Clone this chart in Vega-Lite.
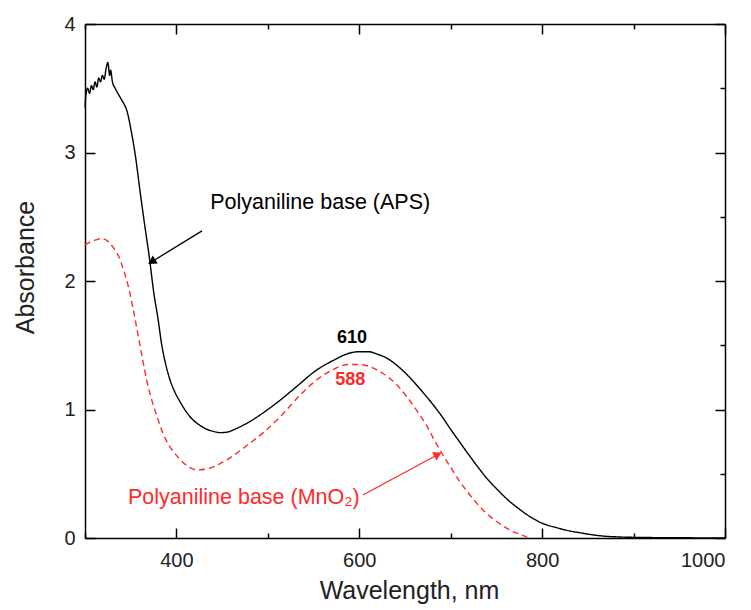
{
  "$schema": "https://vega.github.io/schema/vega-lite/v6.json",
  "width": 640,
  "height": 514,
  "autosize": {"type": "none"},
  "padding": {"left": 85, "top": 24, "right": 26, "bottom": 72},
  "background": "white",
  "config": {
    "view": {"stroke": null},
    "axis": {
      "grid": false,
      "domainColor": "black",
      "domainWidth": 1.5,
      "tickColor": "black",
      "tickWidth": 1.5,
      "labelFont": "Liberation Sans",
      "labelFontSize": 20,
      "labelColor": "#222",
      "titleFont": "Liberation Sans",
      "titleFontSize": 25,
      "titleFontWeight": "normal",
      "titleColor": "#222"
    }
  },
  "datasets": {
    "spectra": [
      {"wl": 300, "abs": 3.35, "s": "APS"},
      {"wl": 301, "abs": 3.45, "s": "APS"},
      {"wl": 303, "abs": 3.50, "s": "APS"},
      {"wl": 305, "abs": 3.46, "s": "APS"},
      {"wl": 307, "abs": 3.52, "s": "APS"},
      {"wl": 309, "abs": 3.49, "s": "APS"},
      {"wl": 311, "abs": 3.55, "s": "APS"},
      {"wl": 313, "abs": 3.51, "s": "APS"},
      {"wl": 315, "abs": 3.58, "s": "APS"},
      {"wl": 317, "abs": 3.55, "s": "APS"},
      {"wl": 319, "abs": 3.60, "s": "APS"},
      {"wl": 321, "abs": 3.57, "s": "APS"},
      {"wl": 323, "abs": 3.65, "s": "APS"},
      {"wl": 325, "abs": 3.70, "s": "APS"},
      {"wl": 327, "abs": 3.60, "s": "APS"},
      {"wl": 328, "abs": 3.64, "s": "APS"},
      {"wl": 330, "abs": 3.55, "s": "APS"},
      {"wl": 333, "abs": 3.50, "s": "APS"},
      {"wl": 336, "abs": 3.46, "s": "APS"},
      {"wl": 340, "abs": 3.41, "s": "APS"},
      {"wl": 346, "abs": 3.32, "s": "APS"},
      {"wl": 351, "abs": 3.15, "s": "APS"},
      {"wl": 355, "abs": 2.98, "s": "APS"},
      {"wl": 360, "abs": 2.71, "s": "APS"},
      {"wl": 365, "abs": 2.45, "s": "APS"},
      {"wl": 371, "abs": 2.15, "s": "APS"},
      {"wl": 375, "abs": 1.92, "s": "APS"},
      {"wl": 380, "abs": 1.70, "s": "APS"},
      {"wl": 384, "abs": 1.50, "s": "APS"},
      {"wl": 388, "abs": 1.36, "s": "APS"},
      {"wl": 393, "abs": 1.23, "s": "APS"},
      {"wl": 398, "abs": 1.14, "s": "APS"},
      {"wl": 404, "abs": 1.06, "s": "APS"},
      {"wl": 410, "abs": 0.99, "s": "APS"},
      {"wl": 418, "abs": 0.92, "s": "APS"},
      {"wl": 425, "abs": 0.88, "s": "APS"},
      {"wl": 432, "abs": 0.85, "s": "APS"},
      {"wl": 440, "abs": 0.83, "s": "APS"},
      {"wl": 448, "abs": 0.82, "s": "APS"},
      {"wl": 456, "abs": 0.825, "s": "APS"},
      {"wl": 465, "abs": 0.85, "s": "APS"},
      {"wl": 475, "abs": 0.885, "s": "APS"},
      {"wl": 490, "abs": 0.95, "s": "APS"},
      {"wl": 500, "abs": 1.00, "s": "APS"},
      {"wl": 513, "abs": 1.07, "s": "APS"},
      {"wl": 525, "abs": 1.14, "s": "APS"},
      {"wl": 535, "abs": 1.20, "s": "APS"},
      {"wl": 550, "abs": 1.29, "s": "APS"},
      {"wl": 571, "abs": 1.38, "s": "APS"},
      {"wl": 590, "abs": 1.44, "s": "APS"},
      {"wl": 600, "abs": 1.45, "s": "APS"},
      {"wl": 610, "abs": 1.45, "s": "APS"},
      {"wl": 620, "abs": 1.43, "s": "APS"},
      {"wl": 630, "abs": 1.40, "s": "APS"},
      {"wl": 645, "abs": 1.32, "s": "APS"},
      {"wl": 659, "abs": 1.22, "s": "APS"},
      {"wl": 670, "abs": 1.13, "s": "APS"},
      {"wl": 681, "abs": 1.035, "s": "APS"},
      {"wl": 690, "abs": 0.95, "s": "APS"},
      {"wl": 700, "abs": 0.845, "s": "APS"},
      {"wl": 710, "abs": 0.745, "s": "APS"},
      {"wl": 718, "abs": 0.665, "s": "APS"},
      {"wl": 730, "abs": 0.55, "s": "APS"},
      {"wl": 740, "abs": 0.46, "s": "APS"},
      {"wl": 752, "abs": 0.37, "s": "APS"},
      {"wl": 762, "abs": 0.30, "s": "APS"},
      {"wl": 775, "abs": 0.225, "s": "APS"},
      {"wl": 787, "abs": 0.165, "s": "APS"},
      {"wl": 800, "abs": 0.115, "s": "APS"},
      {"wl": 816, "abs": 0.08, "s": "APS"},
      {"wl": 830, "abs": 0.055, "s": "APS"},
      {"wl": 842, "abs": 0.04, "s": "APS"},
      {"wl": 855, "abs": 0.025, "s": "APS"},
      {"wl": 867, "abs": 0.015, "s": "APS"},
      {"wl": 885, "abs": 0.008, "s": "APS"},
      {"wl": 900, "abs": 0.005, "s": "APS"},
      {"wl": 950, "abs": 0.002, "s": "APS"},
      {"wl": 1000, "abs": 0.0, "s": "APS"},
      {"wl": 300, "abs": 2.28, "s": "MnO2"},
      {"wl": 305, "abs": 2.30, "s": "MnO2"},
      {"wl": 312, "abs": 2.32, "s": "MnO2"},
      {"wl": 318, "abs": 2.33, "s": "MnO2"},
      {"wl": 325, "abs": 2.31, "s": "MnO2"},
      {"wl": 331, "abs": 2.26, "s": "MnO2"},
      {"wl": 337, "abs": 2.19, "s": "MnO2"},
      {"wl": 342, "abs": 2.09, "s": "MnO2"},
      {"wl": 348, "abs": 1.94, "s": "MnO2"},
      {"wl": 353, "abs": 1.77, "s": "MnO2"},
      {"wl": 358, "abs": 1.58, "s": "MnO2"},
      {"wl": 363, "abs": 1.39, "s": "MnO2"},
      {"wl": 368, "abs": 1.21, "s": "MnO2"},
      {"wl": 374, "abs": 1.05, "s": "MnO2"},
      {"wl": 380, "abs": 0.92, "s": "MnO2"},
      {"wl": 385, "abs": 0.82, "s": "MnO2"},
      {"wl": 392, "abs": 0.72, "s": "MnO2"},
      {"wl": 398, "abs": 0.66, "s": "MnO2"},
      {"wl": 404, "abs": 0.61, "s": "MnO2"},
      {"wl": 412, "abs": 0.56, "s": "MnO2"},
      {"wl": 422, "abs": 0.53, "s": "MnO2"},
      {"wl": 435, "abs": 0.54, "s": "MnO2"},
      {"wl": 448, "abs": 0.58, "s": "MnO2"},
      {"wl": 462, "abs": 0.64, "s": "MnO2"},
      {"wl": 477, "abs": 0.72, "s": "MnO2"},
      {"wl": 495, "abs": 0.82, "s": "MnO2"},
      {"wl": 513, "abs": 0.94, "s": "MnO2"},
      {"wl": 535, "abs": 1.11, "s": "MnO2"},
      {"wl": 550, "abs": 1.21, "s": "MnO2"},
      {"wl": 571, "abs": 1.31, "s": "MnO2"},
      {"wl": 588, "abs": 1.35, "s": "MnO2"},
      {"wl": 600, "abs": 1.35, "s": "MnO2"},
      {"wl": 613, "abs": 1.33, "s": "MnO2"},
      {"wl": 626, "abs": 1.28, "s": "MnO2"},
      {"wl": 640, "abs": 1.20, "s": "MnO2"},
      {"wl": 652, "abs": 1.10, "s": "MnO2"},
      {"wl": 664, "abs": 0.98, "s": "MnO2"},
      {"wl": 674, "abs": 0.87, "s": "MnO2"},
      {"wl": 683, "abs": 0.75, "s": "MnO2"},
      {"wl": 692, "abs": 0.64, "s": "MnO2"},
      {"wl": 700, "abs": 0.55, "s": "MnO2"},
      {"wl": 707, "abs": 0.47, "s": "MnO2"},
      {"wl": 716, "abs": 0.38, "s": "MnO2"},
      {"wl": 725, "abs": 0.30, "s": "MnO2"},
      {"wl": 735, "abs": 0.22, "s": "MnO2"},
      {"wl": 746, "abs": 0.15, "s": "MnO2"},
      {"wl": 756, "abs": 0.10, "s": "MnO2"},
      {"wl": 768, "abs": 0.05, "s": "MnO2"},
      {"wl": 779, "abs": 0.02, "s": "MnO2"},
      {"wl": 785, "abs": 0.0, "s": "MnO2"}
    ],
    "names": [
      {"wl": 437, "abs": 2.61, "label": "Polyaniline base (APS)", "s": "APS"},
      {"wl": 347, "abs": 0.31, "label": "Polyaniline base (MnO₂)", "s": "MnO2"}
    ],
    "peaks": [
      {"wl": 592, "abs": 1.56, "label": "610", "s": "APS"},
      {"wl": 590, "abs": 1.23, "label": "588", "s": "MnO2"}
    ],
    "arrows": [
      {"wl": 428, "abs": 2.39, "wl2": 373, "abs2": 2.15, "s": "APS"},
      {"wl": 604, "abs": 0.335, "wl2": 686, "abs2": 0.65, "s": "MnO2"}
    ]
  },
  "layer": [
    {
      "data": {"name": "spectra"},
      "mark": {"type": "line", "strokeWidth": 1.4, "interpolate": "monotone"},
      "encoding": {
        "x": {
          "field": "wl", "type": "quantitative",
          "scale": {"domain": [300, 1000], "nice": false, "zero": false},
          "axis": {
            "orient": "bottom",
            "title": "Wavelength, nm",
            "format": "d",
            "values": [300, 400, 500, 600, 700, 800, 900, 1000],
            "labelExpr": "datum.value % 200 == 0 ? datum.label : ''",
            "tickSize": {"condition": {"test": "datum.value % 200 == 0", "value": -10}, "value": -5},
            "labelPadding": 22,
            "titleX": 324,
            "titleY": 60,
            "titleBaseline": "alphabetic",
            "titleAlign": "center"
          }
        },
        "y": {
          "field": "abs", "type": "quantitative",
          "scale": {"domain": [0, 4], "nice": false, "zero": true},
          "axis": {
            "orient": "left",
            "title": "Absorbance",
            "format": "d",
            "values": [0, 0.5, 1, 1.5, 2, 2.5, 3, 3.5, 4],
            "labelExpr": "datum.value % 1 == 0 ? datum.label : ''",
            "tickSize": {"condition": {"test": "datum.value % 1 == 0", "value": -10}, "value": -5},
            "labelPadding": 20,
            "titleX": -52,
            "titleY": 243,
            "titleBaseline": "alphabetic",
            "titleAlign": "center",
            "titleAngle": -90
          }
        },
        "color": {
          "field": "s", "type": "nominal",
          "scale": {"domain": ["APS", "MnO2"], "range": ["black", "#ff2a2a"]},
          "legend": null
        },
        "strokeDash": {
          "field": "s", "type": "nominal",
          "scale": {"domain": ["APS", "MnO2"], "range": [[1, 0], [6, 4]]},
          "legend": null
        }
      }
    },
    {
      "data": {"name": "spectra"},
      "mark": {"type": "line", "opacity": 0},
      "encoding": {
        "x": {
          "field": "wl", "type": "quantitative",
          "axis": {
            "orient": "top", "title": null, "labels": false,
            "values": [300, 400, 500, 600, 700, 800, 900, 1000],
            "tickSize": {"condition": {"test": "datum.value % 200 == 0", "value": -10}, "value": -5}
          }
        },
        "y": {
          "field": "abs", "type": "quantitative",
          "axis": {
            "orient": "right", "title": null, "labels": false,
            "values": [0, 0.5, 1, 1.5, 2, 2.5, 3, 3.5, 4],
            "tickSize": {"condition": {"test": "datum.value % 1 == 0", "value": -10}, "value": -5}
          }
        }
      }
    },
    {
      "data": {"name": "names"},
      "mark": {"type": "text", "font": "Liberation Sans", "fontSize": 21.5, "align": "left", "baseline": "middle"},
      "encoding": {
        "x": {"field": "wl", "type": "quantitative", "axis": null},
        "y": {"field": "abs", "type": "quantitative", "axis": null},
        "text": {"field": "label"},
        "color": {"field": "s", "type": "nominal", "legend": null}
      }
    },
    {
      "data": {"name": "peaks"},
      "mark": {"type": "text", "font": "Liberation Sans", "fontSize": 18, "fontWeight": "bold", "align": "center", "baseline": "middle"},
      "encoding": {
        "x": {"field": "wl", "type": "quantitative", "axis": null},
        "y": {"field": "abs", "type": "quantitative", "axis": null},
        "text": {"field": "label"},
        "color": {"field": "s", "type": "nominal", "legend": null}
      }
    },
    {
      "data": {"name": "arrows"},
      "mark": {"type": "rule", "strokeWidth": 1.3},
      "encoding": {
        "x": {"field": "wl", "type": "quantitative", "axis": null},
        "y": {"field": "abs", "type": "quantitative", "axis": null},
        "x2": {"field": "wl2"},
        "y2": {"field": "abs2"},
        "color": {"field": "s", "type": "nominal", "legend": null}
      }
    },
    {
      "data": {"name": "arrows"},
      "transform": [{"filter": "datum.s == 'APS'"}],
      "mark": {"type": "point", "shape": "triangle-up", "filled": true, "size": 90, "angle": 238, "opacity": 1},
      "encoding": {
        "x": {"field": "wl2", "type": "quantitative", "axis": null},
        "y": {"field": "abs2", "type": "quantitative", "axis": null},
        "color": {"field": "s", "type": "nominal", "legend": null}
      }
    },
    {
      "data": {"name": "arrows"},
      "transform": [{"filter": "datum.s == 'MnO2'"}],
      "mark": {"type": "point", "shape": "triangle-up", "filled": true, "size": 90, "angle": 61, "opacity": 1},
      "encoding": {
        "x": {"field": "wl2", "type": "quantitative", "axis": null},
        "y": {"field": "abs2", "type": "quantitative", "axis": null},
        "color": {"field": "s", "type": "nominal", "legend": null}
      }
    }
  ],
  "resolve": {"axis": {"x": "independent", "y": "independent"}}
}
